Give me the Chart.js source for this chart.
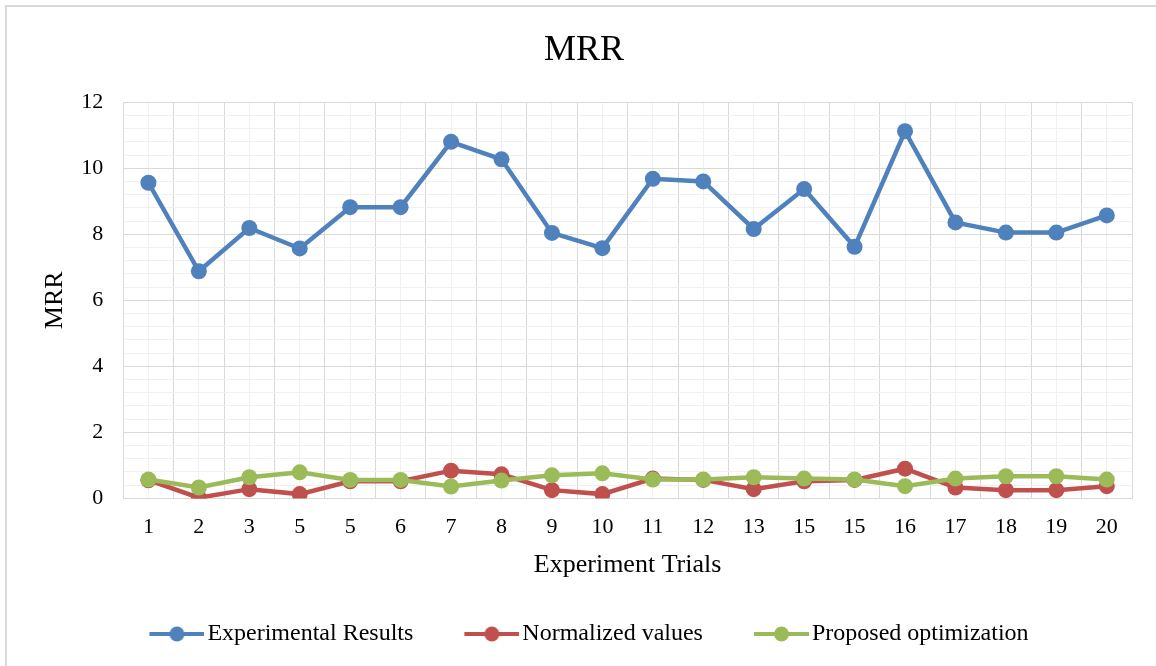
<!DOCTYPE html>
<html>
<head>
<meta charset="utf-8">
<script src="https://cdn.jsdelivr.net/npm/chart.js@4"></script>
<style>
    html, body { margin: 0; padding: 0; background: #fff; }
    #wrap { position: relative; width: 1156px; height: 666px; }
    #frame {
        position: absolute; left: 5px; top: 5px; right: -10px; bottom: -10px;
        border-top: 2px solid #d9d9d9; border-left: 2px solid #d9d9d9;
    }
    #mrrChart { position: absolute; left: 0; top: 0; }
</style>
</head>
<body>
<div id="wrap">
    <div id="frame"></div>
    <canvas id="mrrChart" width="1156" height="666"></canvas>
</div>
<script>
// Chart data
const trialLabels = ['1', '2', '3', '5', '5', '6', '7', '8', '9', '10', '11', '12', '13', '15', '15', '16', '17', '18', '19', '20'];
const experimentalResults = [9.56, 6.88, 8.19, 7.57, 8.82, 8.82, 10.8, 10.27, 8.04, 7.58, 9.68, 9.6, 8.16, 9.37, 7.62, 11.12, 8.36, 8.05, 8.05, 8.57];
const normalizedValues = [0.55, 0.02, 0.28, 0.13, 0.52, 0.52, 0.84, 0.73, 0.25, 0.13, 0.6, 0.56, 0.28, 0.52, 0.56, 0.9, 0.33, 0.25, 0.25, 0.37];
const proposedOptimization = [0.57, 0.33, 0.64, 0.79, 0.56, 0.56, 0.36, 0.54, 0.7, 0.76, 0.57, 0.57, 0.64, 0.6, 0.57, 0.37, 0.6, 0.67, 0.67, 0.57];
const yTicks = [0, 2, 4, 6, 8, 10, 12];

const FONT = "'Liberation Serif', 'Times New Roman', serif";
const MAJOR_GRID = '#d9d9d9';
const MINOR_GRID = '#f0f0f0';

// legend marker: line with a dot, drawn into a small canvas
// (left part is left blank so the marker sits right next to its text)
function legendMarker(color) {
    const c = document.createElement('canvas');
    c.width = 74;
    c.height = 18;
    const g = c.getContext('2d');
    g.strokeStyle = color;
    g.lineWidth = 4;
    g.beginPath();
    g.moveTo(19, 9);
    g.lineTo(74, 9);
    g.stroke();
    g.fillStyle = color;
    g.beginPath();
    g.arc(46.5, 9, 7.5, 0, Math.PI * 2);
    g.fill();
    return c;
}

function isMajor(v) {
    return yTicks.some(t => Math.abs(t - v) < 1e-6);
}

function makeSeries(label, data, color, order) {
    return {
        label: label,
        data: data,
        borderColor: color,
        backgroundColor: color,
        borderWidth: 4.5,
        pointRadius: 8,
        pointHoverRadius: 8,
        pointBorderWidth: 0,
        tension: 0,
        order: order,
        marker: legendMarker(color)
    };
}

new Chart(document.getElementById('mrrChart'), {
    type: 'line',
    data: {
        labels: trialLabels,
        datasets: [
            makeSeries('Experimental Results', experimentalResults, '#4f81bd', 2),
            makeSeries('Normalized values', normalizedValues, '#c0504d', 1),
            makeSeries('Proposed optimization', proposedOptimization, '#9bbb59', 0)
        ]
    },
    options: {
        responsive: false,
        animation: false,
        layout: { padding: { top: 0, left: 36, right: 24, bottom: 10 } },
        plugins: {
            title: {
                display: true,
                text: 'MRR',
                color: '#000',
                font: { family: FONT, size: 36, weight: 'normal' },
                padding: { top: 29, bottom: 30 }
            },
            legend: {
                position: 'bottom',
                labels: {
                    color: '#000',
                    font: { family: FONT, size: 24 },
                    usePointStyle: true,
                    pointStyleWidth: 56,
                    padding: 41,
                    generateLabels: function(chart) {
                        return chart.data.datasets.map((ds, i) => ({
                            text: ds.label,
                            fillStyle: ds.borderColor,
                            strokeStyle: ds.borderColor,
                            fontColor: '#000',
                            lineWidth: 0,
                            pointStyle: ds.marker,
                            hidden: false,
                            datasetIndex: i
                        }));
                    }
                }
            },
            tooltip: { enabled: false }
        },
        scales: {
            x: {
                type: 'category',
                offset: true,
                grid: { offset: true, color: MAJOR_GRID, drawTicks: false },
                border: { color: MAJOR_GRID },
                ticks: {
                    color: '#000',
                    font: { family: FONT, size: 22 },
                    padding: 16,
                    autoSkip: false,
                    maxRotation: 0
                },
                title: {
                    display: true,
                    text: 'Experiment Trials',
                    color: '#000',
                    font: { family: FONT, size: 26 },
                    padding: { top: -7, bottom: 0 }
                }
            },
            x2: {
                type: 'category',
                labels: trialLabels,
                position: 'bottom',
                offset: true,
                grid: { offset: false, color: MINOR_GRID, drawTicks: false },
                border: { display: false },
                ticks: { display: false },
                afterFit: function(scale) { scale.height = 0; }
            },
            y: {
                min: 0,
                max: 12,
                grid: {
                    drawTicks: false,
                    color: ctx => isMajor(ctx.tick.value) ? MAJOR_GRID : MINOR_GRID
                },
                border: { color: MAJOR_GRID },
                ticks: {
                    stepSize: 0.4,
                    autoSkip: false,
                    color: '#000',
                    font: { family: FONT, size: 22 },
                    padding: 20,
                    callback: function(value) {
                        return isMajor(value) ? String(Math.round(value)) : '';
                    }
                },
                title: {
                    display: true,
                    text: 'MRR',
                    color: '#000',
                    font: { family: FONT, size: 26 },
                    padding: { top: 4, bottom: -10 }
                }
            }
        }
    }
});
</script>
</body>
</html>
